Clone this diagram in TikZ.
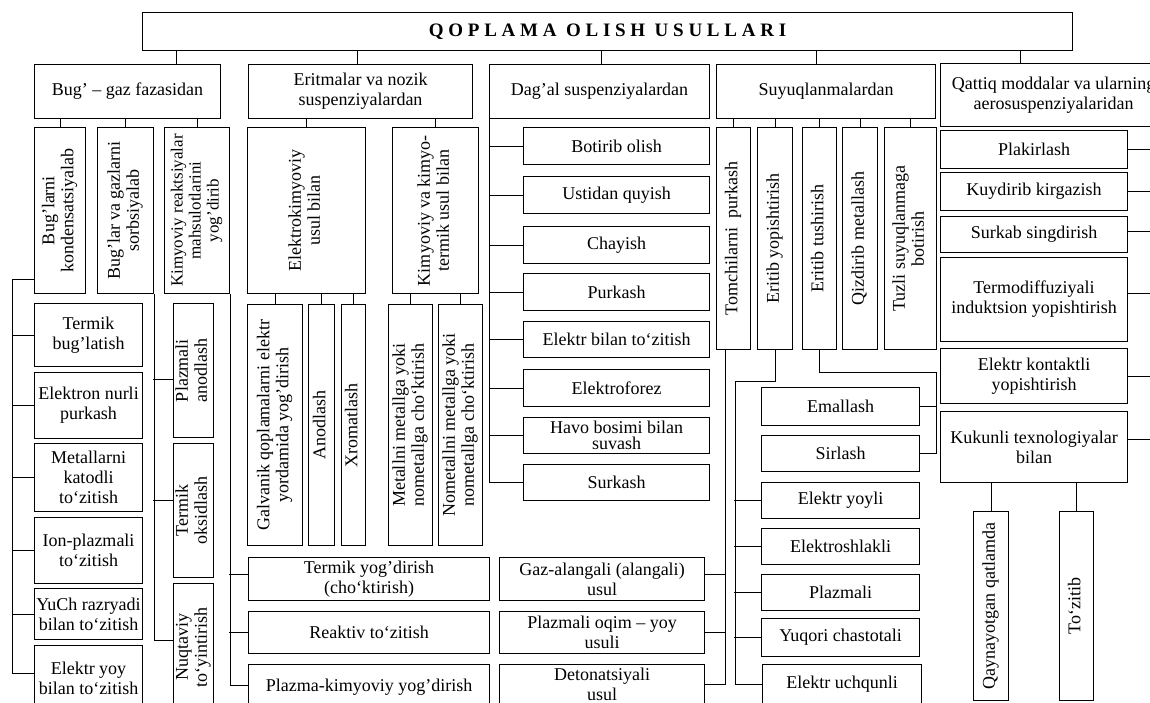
\documentclass[tikz,border=0pt]{standalone}
\usepackage{fontspec}
\usepackage{graphicx}
\setmainfont{Liberation Serif}
\newfontfamily\titlefont[LetterSpace=25]{Liberation Serif}
\newcommand{\vt}[1]{\rotatebox{90}{\renewcommand{\arraystretch}{0.95}\begin{tabular}{@{}c@{}}#1\end{tabular}}}

\begin{document}
\begin{tikzpicture}[x=1pt, y=-1pt, line width=1pt,
    box/.style = {draw, anchor=north west, inner sep=1pt, align=center, font=\fontsize{18}{20}\selectfont},
    wh/.style 2 args = {minimum width=#1, minimum height=#2}]
    \useasboundingbox (0,0) rectangle (1150,702);
    \clip (0,0) rectangle (1150,702);

    % title and main groups
    \node[box, wh={930}{38}, font=\titlefont\bfseries\fontsize{19}{22}\selectfont] (t) at (142,12) {QOPLAMA OLISH USULLARI};
    \node[box, wh={186}{54}] (bug) at (34,64) {Bug’ – gaz fazasidan};
    \node[box, wh={224}{54}] (eri) at (248,64) {Eritmalar va nozik\\suspenziyalardan};
    \node[box, wh={220}{54}] (dag) at (489,64) {Dag’al suspenziyalardan};
    \node[box, wh={219}{54}] (suy) at (716,64) {Suyuqlanmalardan};
    \node[box, wh={226}{63}] (qat) at (940,63) {Qattiq moddalar va ularning\\aerosuspenziyalaridan};

    % bug - gaz fazasidan
    \node[box, wh={51}{166}] (bk) at (34,127) {\vt{Bug’larni\\kondensatsiyalab}};
    \node[box, wh={56}{166}] (bs) at (97,127) {\vt{Bug’lar va gazlarni\\sorbsiyalab}};
    \node[box, wh={65}{166}, font=\fontsize{17}{19}\selectfont] (kr) at (164,127) {\vt{Kimyoviy reaktsiyalar\\mahsulotlarini\\yog’dirib}};
    \node[box, wh={108}{63}] (tb) at (34,303) {Termik\\bug’latish};
    \node[box, wh={108}{66}] (en) at (34,372) {Elektron nurli\\purkash};
    \node[box, wh={108}{68}] (mk) at (34,443) {Metallarni\\katodli\\to‘zitish};
    \node[box, wh={108}{66}] (ip) at (34,517) {Ion-plazmali\\to‘zitish};
    \node[box, wh={108}{51}] (yr) at (34,588) {YuCh razryadi\\bilan to‘zitish};
    \node[box, wh={108}{66}] (ey) at (34,645) {Elektr yoy\\bilan to‘zitish};
    \node[box, wh={40}{134}] (pa) at (173,303) {\vt{Plazmali\\anodlash}};
    \node[box, wh={40}{134}] (to) at (173,443) {\vt{Termik\\oksidlash}};
    \node[box, wh={40}{127}] (nt) at (173,583) {\vt{Nuqtaviy\\to‘yintirish}};
    \node[box, wh={241}{43}] (ty) at (248,557) {Termik yog’dirish\\(cho‘ktirish)};
    \node[box, wh={241}{42}] (rt) at (248,611) {Reaktiv to‘zitish};
    \node[box, wh={241}{46}] (pk) at (248,664) {Plazma-kimyoviy yog’dirish};

    % eritmalar
    \node[box, wh={118}{166}] (ek) at (247,127) {\vt{Elektrokimyoviy\\usul bilan}};
    \node[box, wh={86}{166}] (kk) at (392,127) {\vt{Kimyoviy va kimyo-\\termik usul bilan}};
    \node[box, wh={55}{241}] (gq) at (247,304) {\vt{Galvanik qoplamalarni elektr\\yordamida yog’dirish}};
    \node[box, wh={26}{241}] (an) at (308,304) {\vt{Anodlash}};
    \node[box, wh={24}{241}] (xr) at (341,304) {\vt{Xromatlash}};
    \node[box, wh={44}{241}] (mm) at (388,304) {\vt{Metallni metallga yoki\\nometallga cho‘ktirish}};
    \node[box, wh={44}{241}] (nm) at (438,304) {\vt{Nometallni metallga yoki\\nometallga cho‘ktirish}};

    % dag'al suspenziyalar
    \node[box, wh={186}{37}] (bo) at (523,127) {Botirib olish};
    \node[box, wh={186}{37}] (uq) at (523,176) {Ustidan quyish};
    \node[box, wh={186}{37}] (ch) at (523,226) {Chayish};
    \node[box, wh={186}{37}] (pu) at (523,273) {Purkash};
    \node[box, wh={186}{36}] (eb) at (523,321) {Elektr bilan to‘zitish};
    \node[box, wh={186}{37}] (ef) at (523,369) {Elektroforez};
    \node[box, wh={186}{36}] (hb) at (523,417) {Havo bosimi bilan\\[-4pt]suvash};
    \node[box, wh={186}{36}] (su) at (523,464) {Surkash};

    % suyuqlanmalar
    \node[box, wh={34}{222}] (tp) at (716,127) {\vt{Tomchilarni~~purkash}};
    \node[box, wh={35}{222}] (yo) at (757,127) {\vt{Eritib yopishtirish}};
    \node[box, wh={34}{222}] (et) at (802,127) {\vt{Eritib tushirish}};
    \node[box, wh={35}{222}] (qm) at (842,127) {\vt{Qizdirib metallash}};
    \node[box, wh={52}{222}] (tz) at (884,127) {\vt{Tuzli suyuqlanmaga\\botirish}};
    \node[box, wh={205}{43}] (ga) at (499,557) {Gaz-alangali (alangali)\\usul};
    \node[box, wh={205}{42}] (po) at (499,611) {Plazmali oqim – yoy\\usuli};
    \node[box, wh={205}{40}] (de) at (499,664) {Detonatsiyali\\usul};
    \node[box, wh={158}{38}] (em) at (761,387) {Emallash};
    \node[box, wh={158}{36}] (si) at (761,435) {Sirlash};
    \node[box, wh={158}{36}] (eyo) at (761,482) {Elektr yoyli};
    \node[box, wh={158}{36}] (es) at (761,528) {Elektroshlakli};
    \node[box, wh={158}{36}] (pl) at (761,574) {Plazmali};
    \node[box, wh={158}{38}] (yc) at (761,618) {Yuqori chastotali};
    \node[box, wh={159}{40}] (eu) at (762,664) {Elektr uchqunli};

    % qattiq moddalar
    \node[box, wh={187}{38}] (plk) at (940,130) {Plakirlash};
    \node[box, wh={187}{38}] (kdk) at (940,172) {Kuydirib kirgazish};
    \node[box, wh={187}{36}] (ss) at (940,216) {Surkab singdirish};
    \node[box, wh={187}{84}] (td) at (940,257) {Termodiffuziyali\\induktsion yopishtirish};
    \node[box, wh={187}{55}] (ekt) at (940,348) {Elektr kontaktli\\yopishtirish};
    \node[box, wh={187}{71}] (kt) at (940,411) {Kukunli texnologiyalar\\bilan};
    \node[box, wh={35}{189}] (qq) at (973,511) {\vt{Qaynayotgan qatlamda}};
    \node[box, wh={34}{189}] (tzb) at (1059,511) {\vt{To‘zitib}};

    % connectors
    \foreach \n/\d in {bug/49, eri/-3, dag/2, suy/-10, qat/-33} {
        \path ([xshift=\d]\n.north) coordinate (c\n);
        \draw (c\n) -- (c\n |- t.south);
    }
    \foreach \n in {bk,bs,kr} \draw (\n.north) -- (\n.north |- bug.south);
    \draw ([yshift=15]bk.south west) -| ([xshift=-22,yshift=5]ey.west) -- ([yshift=5]ey.west);
    \foreach \n in {tb,en,mk,ip,yr} \draw (\n.west) -- ++(-22,0);
    \draw (bs.south east) |- ([yshift=7]nt.west);
    \draw ([yshift=-9]pa.west) -- ++(-20,0);
    \draw ([yshift=10]to.west) -- ++(-20,0);
    \draw (kr.south east) |- ([yshift=2]pk.west);
    \draw ([yshift=5]ty.west) -- ++(-19,0);
    \draw (rt.west) -- ++(-19,0);

    \foreach \n in {ek,kk} \draw (\n.north) -- (\n.north |- eri.south);
    \foreach \n in {gq,an,xr} \draw (\n.north) -- (\n.north |- ek.south);
    \foreach \n in {mm,nm} \draw (\n.north) -- (\n.north |- kk.south);

    \draw (dag.south west) |- (su.west);
    \foreach \n in {bo,uq,ch,pu,eb,ef,hb} \draw (\n.west) -- (\n.west -| dag.west);

    \foreach \n in {tp,yo,et,qm,tz} \draw (\n.north) -- (\n.north |- suy.south);
    \path ([xshift=-8]tp.south) coordinate (tps);
    \draw (tps) |- (de.east);
    \draw ([yshift=5]ga.east) -- ++(21,0);
    \draw (po.east) -- ++(21,0);
    \draw (yo.south) -- ++(0,31) -| ([xshift=-27]eu.west) -- (eu.west);
    \foreach \n in {eyo,es,pl,yc} \draw (\n.west) -- ++(-27,0);
    \draw (et.south) -- ++(0,22) -| ([xshift=16]si.east) -- (si.east);
    \draw (em.east) -- ++(16,0);

    \foreach \n/\d in {plk/0, kdk/0, ss/3, td/6, ekt/0, kt/8} \draw ([yshift=\d]\n.east) -- ++(33,0);
    \foreach \n in {qq,tzb} \draw (\n.north) -- (\n.north |- kt.south);
\end{tikzpicture}
\end{document}
